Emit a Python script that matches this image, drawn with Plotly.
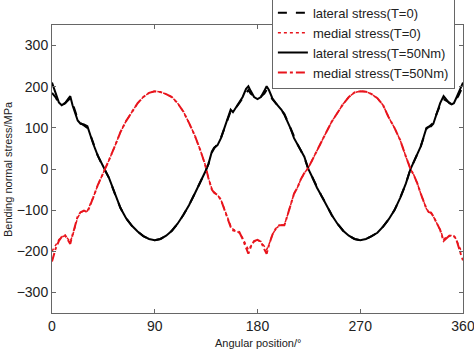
import plotly.graph_objects as go

angles = [0, 3, 6, 8.5, 11.5, 14, 16, 18, 20, 22.5, 25, 28, 31, 33, 36, 40, 43, 46, 50, 55,
          60, 65, 70, 75, 80, 85, 90, 95, 100, 105, 110, 115, 120, 125, 130, 134, 137, 140, 142, 145,
          148, 151, 154, 156.5, 158.5, 161, 164, 167, 170, 172, 174, 177, 180, 183, 186, 188, 190, 193, 196, 199,
          201, 203.5, 206, 209, 212, 215, 218, 221, 224.5, 228, 232, 236, 240, 245, 250, 255, 260, 265, 270, 275,
          280, 285, 290, 295, 300, 305, 310, 314, 317, 320, 323, 326, 328, 330, 332, 334, 337, 340, 343, 346,
          348, 350, 352, 354, 356, 358, 360]

lateral_T50 = [210, 185, 162, 155, 160, 170, 177, 155, 138, 118, 110, 108, 104, 85, 62, 33, 15, 0, -22, -60,
               -95, -120, -138, -152, -163, -170, -173, -170, -162, -150, -133, -112, -88, -60, -32, -8, 12, 42, 52, 58,
               75, 100, 120, 144, 138, 148, 160, 175, 195, 201, 190, 175, 170, 175, 190, 201, 192, 172, 160, 150,
               144, 132, 118, 98, 75, 58, 45, 30, 0, -20, -45, -65, -85, -112, -133, -150, -162, -170, -173, -170,
               -163, -155, -140, -122, -100, -70, -35, 0, 18, 35, 55, 82, 100, 103, 104, 110, 135, 160, 177, 168,
               160, 157, 160, 172, 185, 200, 210]

lateral_T0 = [185, 175, 160, 155, 160, 168, 172, 160, 142, 122, 112, 106, 100, 88, 62, 33, 15, 0, -22, -60,
              -95, -120, -138, -152, -163, -170, -173, -170, -162, -150, -133, -112, -88, -60, -32, -8, 12, 40, 50, 60,
              76, 100, 120, 140, 140, 148, 160, 172, 185, 192, 183, 176, 175, 176, 183, 192, 185, 170, 160, 150,
              142, 134, 118, 98, 76, 60, 45, 28, 0, -20, -45, -65, -85, -112, -133, -150, -162, -170, -173, -170,
              -163, -155, -140, -122, -100, -70, -35, 0, 18, 35, 55, 80, 98, 102, 106, 112, 135, 155, 170, 165,
              160, 158, 160, 168, 178, 190, 185]

medial_T50 = [-225, -195, -175, -165, -161, -172, -182, -160, -140, -115, -105, -101, -105, -89, -70, -40, -20, 0, 22, 55,
              90, 117, 140, 160, 175, 185, 189, 187, 182, 175, 160, 140, 112, 82, 45, 12, -22, -50, -58, -63,
              -75, -100, -120, -141, -149, -150, -153, -170, -190, -206, -190, -175, -172, -177, -195, -206, -185, -160, -145, -137,
              -137, -137, -115, -85, -60, -45, -25, -10, 3, 22, 45, 68, 88, 115, 138, 158, 175, 186, 189, 188,
              182, 172, 155, 125, 100, 70, 30, 0, -15, -35, -60, -85, -97, -105, -106, -115, -130, -148, -175, -168,
              -162, -161, -163, -170, -190, -206, -222]

medial_T0 = [-200, -185, -172, -165, -162, -170, -176, -162, -142, -118, -106, -102, -102, -90, -70, -40, -20, 0, 22, 55,
             90, 117, 140, 160, 175, 185, 189, 187, 182, 175, 160, 140, 112, 82, 45, 12, -22, -48, -56, -63,
             -75, -98, -120, -138, -146, -150, -155, -168, -185, -196, -188, -176, -174, -176, -188, -196, -184, -160, -145, -138,
             -136, -136, -115, -85, -60, -45, -25, -10, 3, 22, 45, 68, 88, 115, 138, 158, 175, 186, 189, 188,
             182, 172, 155, 125, 100, 70, 30, 0, -15, -35, -60, -85, -97, -104, -107, -115, -130, -148, -170, -166,
             -162, -161, -163, -170, -185, -196, -200]

x_ticks = [0, 90, 180, 270, 360]
y_ticks = [-300, -200, -100, 0, 100, 200, 300]

FONT = "Liberation Sans, Arial, sans-serif"

fig = go.Figure()
fig.add_trace(go.Scatter(x=angles, y=lateral_T0, mode="lines", name="lateral stress(T=0)",
                         line=dict(color="black", width=2, dash="dash")))
fig.add_trace(go.Scatter(x=angles, y=medial_T0, mode="lines", name="medial stress(T=0)",
                         line=dict(color="#e8141c", width=1.5, dash="dot")))
fig.add_trace(go.Scatter(x=angles, y=lateral_T50, mode="lines", name="lateral stress(T=50Nm)",
                         line=dict(color="black", width=2)))
fig.add_trace(go.Scatter(x=angles, y=medial_T50, mode="lines", name="medial stress(T=50Nm)",
                         line=dict(color="#e8141c", width=2, dash="dashdot")))

axis_common = dict(showline=True, linecolor="#666666", linewidth=1, mirror="ticks",
                   ticks="inside", ticklen=4, tickcolor="#666666", showgrid=False, zeroline=False,
                   ticklabeloverflow="allow",
                   tickfont=dict(family=FONT, size=14, color="#222222"))

fig.update_xaxes(range=[0, 360], tickvals=x_ticks, **axis_common)
fig.update_yaxes(range=[-350, 350], tickvals=y_ticks, **axis_common)

fig.update_layout(
    width=474, height=355,
    margin=dict(l=52, r=11, t=25, b=42, autoexpand=False),
    plot_bgcolor="white", paper_bgcolor="white",
    font=dict(family=FONT, color="#222222"),
    showlegend=True,
    legend=dict(x=0.535, y=1.098, xanchor="left", yanchor="top",
                bgcolor="white", bordercolor="#666666", borderwidth=1,
                font=dict(family=FONT, size=13, color="#222222"),
                tracegroupgap=0, itemwidth=30),
    annotations=[
        dict(text="Angular position/°", x=0.5, y=-0.104, xref="paper", yref="paper",
             xanchor="center", yanchor="middle", showarrow=False,
             font=dict(family=FONT, size=11, color="#222222")),
        dict(text="Bending normal stress/MPa", x=-0.107, y=0.5, xref="paper", yref="paper",
             xanchor="center", yanchor="middle", showarrow=False, textangle=-90,
             font=dict(family=FONT, size=11, color="#222222")),
    ],
)

fig.write_html("out.html", config={"displayModeBar": False},
               post_script="document.body.style.margin='0';document.body.style.overflow='hidden';")
